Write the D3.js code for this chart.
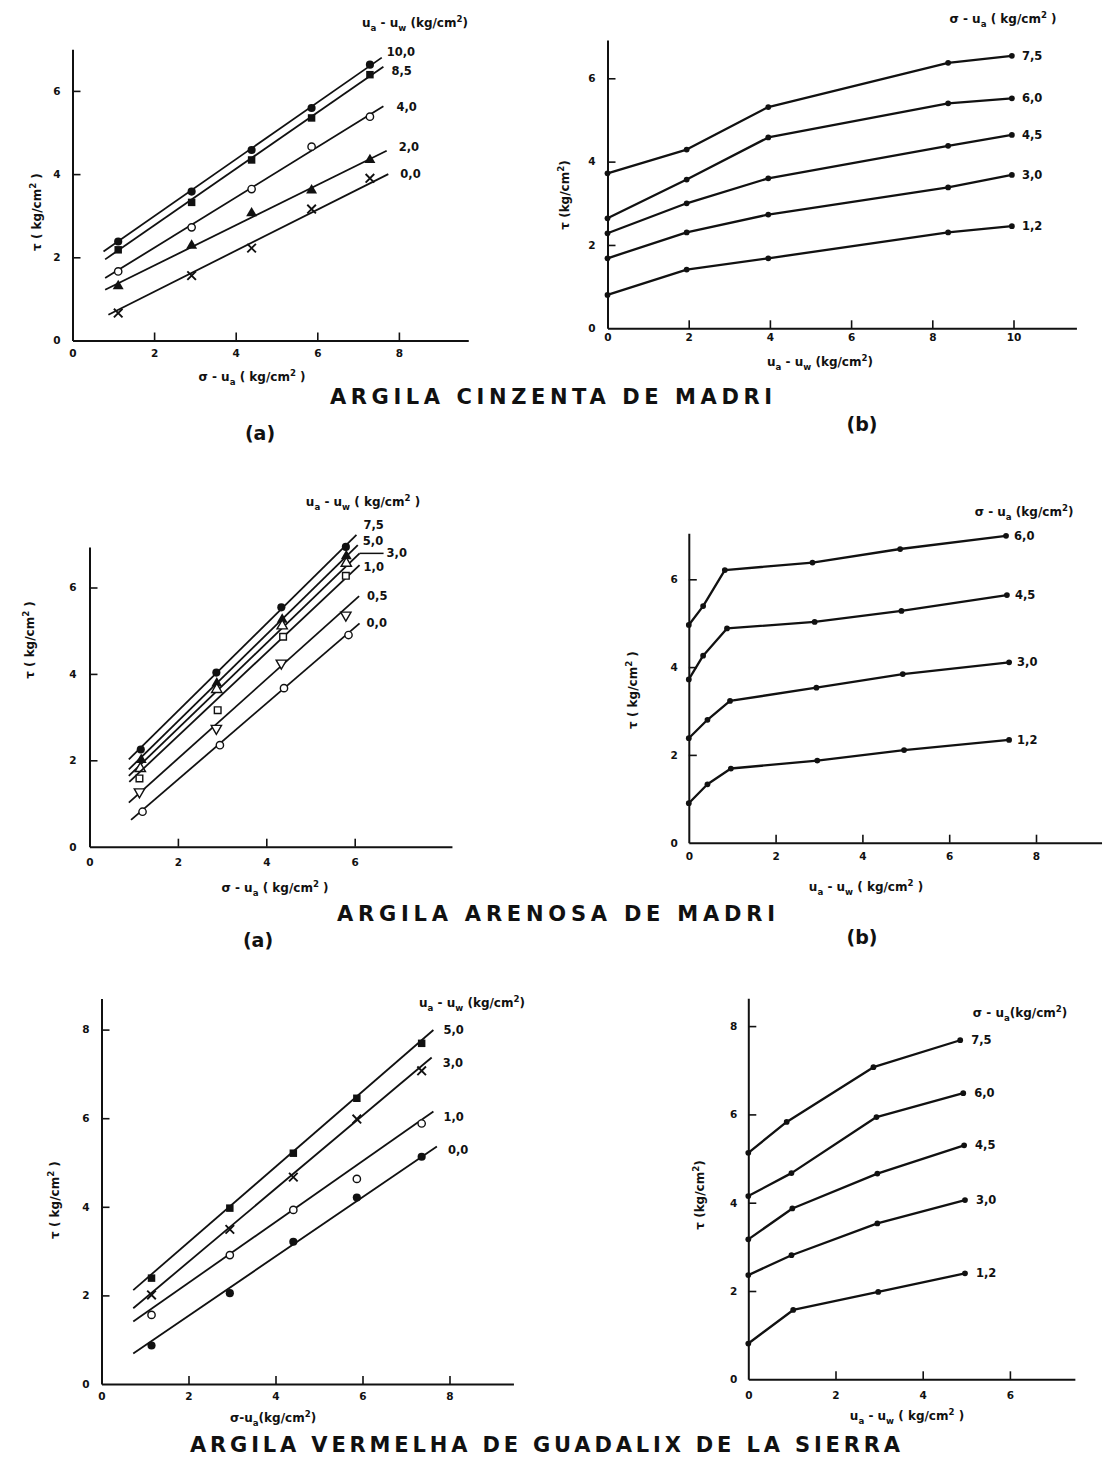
<!DOCTYPE html>
<html><head><meta charset="utf-8">
<script src="https://cdn.jsdelivr.net/npm/d3@7"></script>
<style>
body{margin:0;background:#fff}
svg{display:block}
text{font-family:"DejaVu Sans",sans-serif;fill:#111}
</style>
</head><body>
<svg id="c" width="1104" height="1461"></svg>
<script>
// ---------------- DATA ----------------
// Panel 1 : Argila cinzenta de Madri (a)  tau vs (sigma-ua), series = ua-uw
const p1Labels = ["10,0","8,5","4,0","2,0","0,0"];
const p1X = [1.12, 2.92, 4.39, 5.86, 7.29];
const p1Tau = [
  [2.38,3.58,4.58,5.59,6.63],
  [2.18,3.32,4.34,5.35,6.39],
  [1.66,2.72,3.64,4.66,5.38],
  [1.31,2.28,3.06,3.61,4.34],
  [0.66,1.56,2.22,3.16,3.90]];
const p1FitX = [[0.76,7.58],[0.80,7.62],[0.80,7.62],[0.80,7.70],[0.88,7.74]];
const p1FitTau = [[2.14,6.80],[1.95,6.58],[1.50,5.63],[1.22,4.56],[0.62,4.00]];
const p1XTicks = [0,2,4,6,8], p1YTicks = [0,2,4,6];

// Panel 2 : Argila cinzenta de Madri (b)  tau vs (ua-uw), series = sigma-ua
const p2Labels = ["7,5","6,0","4,5","3,0","1,2"];
const p2X = [0, 1.95, 3.96, 8.39, 9.96];
const p2Tau = [
  [3.72,4.29,5.31,6.37,6.54],
  [2.64,3.57,4.58,5.40,5.52],
  [2.28,3.00,3.60,4.38,4.64],
  [1.68,2.30,2.73,3.38,3.68],
  [0.80,1.41,1.68,2.30,2.45]];
const p2XTicks = [0,2,4,6,8,10], p2YTicks = [0,2,4,6];

// Panel 3 : Argila arenosa de Madri (a)
const p3Labels = ["7,5","5,0","3,0","1,0","0,5","0,0"];
const p3X = [[1.16,2.87,4.34,5.80],[1.17,2.88,4.36,5.81],[1.15,2.88,4.36,5.81],
             [1.13,2.90,4.38,5.80],[1.13,2.87,4.34,5.80],[1.20,2.95,4.40,5.86]];
const p3Tau = [[2.25,4.03,5.54,6.94],[2.01,3.78,5.26,6.73],[1.81,3.64,5.11,6.56],
               [1.58,3.16,4.86,6.27],[1.27,2.74,4.25,5.36],[0.81,2.35,3.67,4.90]];
const p3FitX = [[0.89,6.04],[0.89,6.07],[0.89,6.11],[0.90,6.11],[0.89,6.10],[0.94,6.11]];
const p3FitTau = [[2.02,7.22],[1.79,6.98],[1.64,6.79],[1.50,6.52],[1.02,5.80],[0.62,5.17]];
const p3XTicks = [0,2,4,6], p3YTicks = [0,2,4,6];

// Panel 4 : Argila arenosa de Madri (b)
const p4Labels = ["6,0","4,5","3,0","1,2"];
const p4X = [[0,0.33,0.83,2.85,4.87,7.31],[0,0.33,0.88,2.90,4.90,7.33],
             [0,0.43,0.95,2.94,4.93,7.38],[0,0.43,0.97,2.96,4.96,7.38]];
const p4Tau = [[4.96,5.39,6.21,6.38,6.69,6.99],[3.72,4.26,4.88,5.03,5.28,5.64],
               [2.38,2.80,3.23,3.53,3.84,4.11],[0.90,1.33,1.69,1.87,2.11,2.34]];
const p4XTicks = [0,2,4,6,8], p4YTicks = [0,2,4,6];

// Panel 5 : Argila vermelha de Guadalix de la Sierra (a)
const p5Labels = ["5,0","3,0","1,0","0,0"];
const p5X = [1.15, 2.95, 4.41, 5.87, 7.36];
const p5Tau = [[2.39,3.97,5.21,6.45,7.69],[2.01,3.49,4.67,5.98,7.07],
               [1.56,2.91,3.93,4.63,5.88],[0.87,2.05,3.21,4.21,5.13]];
const p5FitX = [[0.73,7.63],[0.73,7.59],[0.73,7.63],[0.73,7.71]];
const p5FitTau = [[2.12,7.99],[1.71,7.37],[1.41,6.15],[0.69,5.36]];
const p5XTicks = [0,2,4,6,8], p5YTicks = [0,2,4,6,8];

// Panel 6 : Argila vermelha de Guadalix de la Sierra (b)
const p6Labels = ["7,5","6,0","4,5","3,0","1,2"];
const p6X = [[0,0.88,2.87,4.86],[0,0.99,2.94,4.93],[0,1.01,2.96,4.95],[0,0.99,2.96,4.97],[0,1.03,2.98,4.97]];
const p6Tau = [[5.13,5.83,7.07,7.68],[4.15,4.67,5.94,6.48],[3.17,3.87,4.66,5.30],
               [2.36,2.81,3.53,4.06],[0.81,1.57,1.98,2.40]];
const p6XTicks = [0,2,4,6], p6YTicks = [0,2,4,6,8];

const titles = ["ARGILA  CINZENTA  DE MADRI", "ARGILA  ARENOSA  DE  MADRI",
                "ARGILA  VERMELHA  DE  GUADALIX  DE  LA  SIERRA"];

// ---------------- LAYOUT / STYLE ----------------
const svg = d3.select("#c");
const INK = "#111";

function parse(str){
  const segs=[]; let buf="";
  for(let i=0;i<str.length;i++){
    const c=str[i];
    if(c==="_"||c==="^"){ if(buf) segs.push([buf,""]); buf=""; segs.push([str[i+1], c==="_"?"sub":"sup"]); i++; }
    else buf+=c;
  }
  if(buf) segs.push([buf,""]);
  return segs;
}
function rich(g, str, x, y, fs, opts={}){
  const t = g.append("text").attr("x",x).attr("y",y).attr("font-size",fs)
    .attr("text-anchor",opts.anchor||"middle").attr("font-weight",opts.weight||"normal");
  if(opts.ls) t.attr("letter-spacing",opts.ls);
  if(opts.rotate) t.attr("transform",`rotate(${opts.rotate},${x},${y})`);
  let shift=0;
  parse(str).forEach(([s,k])=>{
    const ts=t.append("tspan").text(s);
    const target = k==="sub"?0.32*fs:(k==="sup"?-0.42*fs:0);
    const dy=target-shift; if(dy) ts.attr("dy",dy.toFixed(2));
    shift=target;
    if(k) ts.attr("font-size",(fs*0.72).toFixed(1));
    if(s==="τ") ts.attr("font-size",fs*1.45);
  });
  return t;
}

function marker(g, type, cx, cy){
  const map = {
    circleFilled:[d3.symbolCircle,52,true], circleOpen:[d3.symbolCircle,42,false],
    squareFilled:[d3.symbolSquare,56,true], squareOpen:[d3.symbolSquare,44,false],
    triangleFilled:[d3.symbolTriangle,52,true], triangleOpen:[d3.symbolTriangle,46,false],
    triangleDownOpen:[d3.symbolTriangle,46,false], times:[d3.symbolTimes,50,null],
    dot:[d3.symbolCircle,26,true]
  };
  const [sym,size,filled]=map[type];
  const p=g.append("path").attr("d",d3.symbol(sym,size)())
    .attr("transform",`translate(${cx},${cy})`+(type==="triangleDownOpen"?" rotate(180)":""));
  if(filled===true) p.attr("fill",INK);
  else if(filled===false) p.attr("fill","#fff").attr("stroke",INK).attr("stroke-width",1.4);
  else p.attr("fill","none").attr("stroke",INK).attr("stroke-width",1.9);
}

function panel(cfg){
  const g = svg.append("g");
  const x = d3.scaleLinear().domain([0,cfg.xMax]).range([cfg.x0, cfg.x0+cfg.xMax*cfg.kx]);
  const y = d3.scaleLinear().domain([0,cfg.yMax]).range([cfg.y0, cfg.y0-cfg.yMax*cfg.ky]);
  const ax = g.append("g").attr("transform",`translate(0,${cfg.y0})`)
    .call(d3.axisBottom(x).tickValues(cfg.xTicks).tickSize(-8).tickSizeOuter(0).tickPadding(cfg.xPad).tickFormat(d3.format("d")));
  const ay = g.append("g").attr("transform",`translate(${cfg.x0},0)`)
    .call(d3.axisLeft(y).tickValues(cfg.yTicks).tickSize(-8).tickSizeOuter(0).tickPadding(cfg.yPad).tickFormat(d3.format("d")));
  [ax,ay].forEach(a=>{
    a.select(".domain").attr("stroke",INK).attr("stroke-width",2);
    a.selectAll(".tick line").attr("stroke",INK).attr("stroke-width",1.6);
    a.selectAll(".tick text").attr("font-size",10.5).attr("font-weight","bold").attr("fill",INK)
      .attr("font-family","DejaVu Sans, sans-serif");
  });
  ax.selectAll(".tick").filter(d=>d===0).select("line").remove();
  ay.selectAll(".tick").filter(d=>d===0).select("line").remove();

  const line = d3.line().x(d=>x(d[0])).y(d=>y(d[1]));
  const lbl = g.append("g");
  cfg.tau.forEach((ser,i)=>{
    const xs = Array.isArray(cfg.xs[0]) ? cfg.xs[i] : cfg.xs;
    const pts = ser.map((v,j)=>[xs[j],v]);
    if(cfg.fitX){
      const f=[[cfg.fitX[i][0],cfg.fitTau[i][0]],[cfg.fitX[i][1],cfg.fitTau[i][1]]];
      g.append("path").attr("d",line(f)).attr("fill","none").attr("stroke",INK).attr("stroke-width",1.8);
      pts.forEach(p=>marker(g,cfg.symbols[i],x(p[0]),y(p[1])));
      const ex=x(f[1][0]), ey=y(f[1][1]);
      const [dx,dy]=cfg.nudge[i];
      if(cfg.leader && cfg.leader[i]) g.append("line").attr("x1",ex).attr("y1",ey).attr("x2",ex+dx-3).attr("y2",ey+dy)
        .attr("stroke",INK).attr("stroke-width",1.5);
      lbl.append("text").attr("x",ex+dx).attr("y",ey+dy+4).attr("font-size",11.5).attr("font-weight","bold").text(cfg.labels[i]);
    } else {
      g.append("path").attr("d",line(pts)).attr("fill","none").attr("stroke",INK).attr("stroke-width",2.3).attr("stroke-linejoin","round");
      pts.forEach(p=>marker(g,"dot",x(p[0]),y(p[1])));
      const lp=pts[pts.length-1];
      lbl.append("text").attr("x",x(lp[0])+cfg.labelDx).attr("y",y(lp[1])+4).attr("font-size",11.5).attr("font-weight","bold").text(cfg.labels[i]);
    }
  });
  rich(g, cfg.legend, cfg.legendPos[0], cfg.legendPos[1]+4, 12, {weight:"bold"});
  rich(g, cfg.xlabel, cfg.xlabelPos[0], cfg.xlabelPos[1]+4, 12, {weight:"bold"});
  rich(g, cfg.ylabel, cfg.ylabelPos[0]+4, cfg.ylabelPos[1], 12, {weight:"bold", rotate:-90});
}

panel({x0:72.5,y0:340.5,kx:40.8,ky:41.6,xMax:9.7,yMax:7.0,xPad:9,yPad:12,
  xTicks:p1XTicks,yTicks:p1YTicks,xs:p1X,tau:p1Tau,fitX:p1FitX,fitTau:p1FitTau,labels:p1Labels,
  symbols:["circleFilled","squareFilled","circleOpen","triangleFilled","times"],
  nudge:[[5,-6],[8,4],[13,1],[12,-4],[12,0]],
  legend:"u_a - u_w (kg/cm^2)",legendPos:[415,23],xlabel:"σ - u_a ( kg/cm^2 )",xlabelPos:[252,377],
  ylabel:"τ ( kg/cm^2 )",ylabelPos:[37,212]});

panel({x0:607.5,y0:328.3,kx:40.6,ky:41.67,xMax:11.55,yMax:6.92,xPad:5,yPad:12,
  xTicks:p2XTicks,yTicks:p2YTicks,xs:p2X,tau:p2Tau,labels:p2Labels,labelDx:10,
  legend:"σ - u_a ( kg/cm^2 )",legendPos:[1003,19],xlabel:"u_a - u_w (kg/cm^2)",xlabelPos:[820,362],
  ylabel:"τ (kg/cm^2)",ylabelPos:[565,195]});

panel({x0:89.5,y0:846.7,kx:44.2,ky:43.2,xMax:8.2,yMax:6.94,xPad:12,yPad:13,
  xTicks:p3XTicks,yTicks:p3YTicks,xs:p3X,tau:p3Tau,fitX:p3FitX,fitTau:p3FitTau,labels:p3Labels,
  symbols:["circleFilled","triangleFilled","triangleOpen","squareOpen","triangleDownOpen","circleOpen"],
  nudge:[[7,-10],[5,-4],[27,0],[4,2],[8,0],[7,0]], leader:[false,false,true,false,false,false],
  legend:"u_a - u_w ( kg/cm^2 )",legendPos:[363,502],xlabel:"σ - u_a ( kg/cm^2 )",xlabelPos:[275,888],
  ylabel:"τ ( kg/cm^2 )",ylabelPos:[30,640]});

panel({x0:688.8,y0:842.7,kx:43.4,ky:43.9,xMax:9.51,yMax:7.05,xPad:10,yPad:11,
  xTicks:p4XTicks,yTicks:p4YTicks,xs:p4X,tau:p4Tau,labels:p4Labels,labelDx:8,
  legend:"σ - u_a (kg/cm^2)",legendPos:[1024,512],xlabel:"u_a - u_w ( kg/cm^2 )",xlabelPos:[866,887],
  ylabel:"τ ( kg/cm^2 )",ylabelPos:[633,690]});

panel({x0:101.5,y0:1384,kx:43.5,ky:44.3,xMax:9.47,yMax:8.7,xPad:9,yPad:12,
  xTicks:p5XTicks,yTicks:p5YTicks,xs:p5X,tau:p5Tau,fitX:p5FitX,fitTau:p5FitTau,labels:p5Labels,
  symbols:["squareFilled","times","circleOpen","circleFilled"],
  nudge:[[10,0],[11,5],[10,5],[11,3]],
  legend:"u_a - u_w (kg/cm^2)",legendPos:[472,1003],xlabel:"σ-u_a(kg/cm^2)",xlabelPos:[273,1418],
  ylabel:"τ ( kg/cm^2 )",ylabelPos:[55,1200]});

panel({x0:748.3,y0:1379.3,kx:43.6,ky:44.15,xMax:7.49,yMax:8.63,xPad:12,yPad:11,
  xTicks:p6XTicks,yTicks:p6YTicks,xs:p6X,tau:p6Tau,labels:p6Labels,labelDx:11,
  legend:"σ - u_a(kg/cm^2)",legendPos:[1020,1013],xlabel:"u_a - u_w ( kg/cm^2 )",xlabelPos:[907,1416],
  ylabel:"τ (kg/cm^2)",ylabelPos:[700,1195]});

// titles and (a)/(b) markers
const titlePos = [[551,396,442],[556,913,438],[545,1444,710]];
titles.forEach((t,i)=>{
  svg.append("text").attr("x",titlePos[i][0]).attr("y",titlePos[i][1]+8).attr("text-anchor","middle")
    .attr("font-size",21).attr("font-weight","bold").attr("textLength",titlePos[i][2]).attr("lengthAdjust","spacing").text(t);
});
const abPos = [["(a)",260,433],["(b)",862,424],["(a)",258,940],["(b)",862,937]];
abPos.forEach(([t,x,y])=>svg.append("text").attr("x",x).attr("y",y+7).attr("text-anchor","middle")
  .attr("font-size",19).attr("font-weight","bold").text(t));
</script>
</body></html>
